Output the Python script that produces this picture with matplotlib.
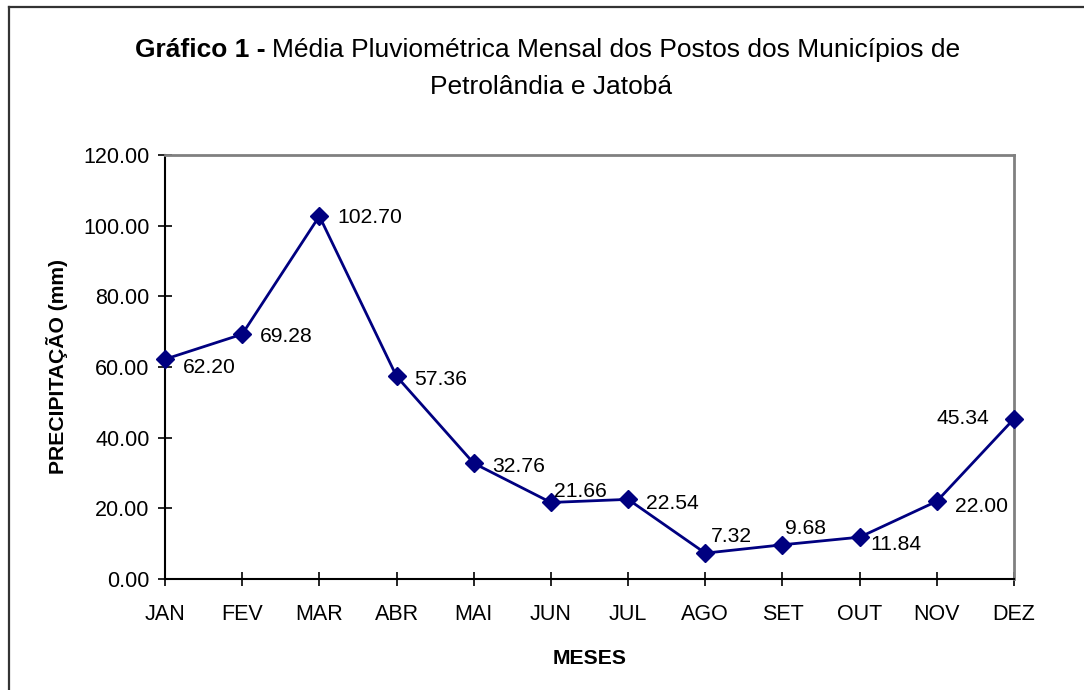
import matplotlib
matplotlib.use("Agg")
import matplotlib.pyplot as plt
from matplotlib.lines import Line2D
from matplotlib.ticker import FormatStrFormatter

plt.rcParams["font.family"] = ["Liberation Sans", "DejaVu Sans"]

meses = ["JAN", "FEV", "MAR", "ABR", "MAI", "JUN", "JUL", "AGO", "SET", "OUT", "NOV", "DEZ"]
precip = [62.20, 69.28, 102.70, 57.36, 32.76, 21.66, 22.54, 7.32, 9.68, 11.84, 22.00, 45.34]
# deslocamento dos rótulos (pontos) em relação a cada marcador
offsets = [(13, -6), (13, -2), (13, -1), (13, -2), (13, -2), (2, 8),
           (13, -3), (4, 12), (2, 12), (8, -5), (13, -4), (-18, 0)]

W, H = 1084, 690
fig = plt.figure(figsize=(W / 100, H / 100), dpi=100)
ax = fig.add_axes([165 / W, 1 - 579 / H, (1014 - 165) / W, (579 - 155) / H])

x = list(range(len(meses)))
ax.plot(x, precip, color="#000080", lw=2, marker="D", ms=9, mec="#000080", mfc="#000080",
        clip_on=False, zorder=3)
for xi, v, (dx, dy) in zip(x, precip, offsets):
    ha = "right" if dx < 0 else "left"
    ax.annotate(f"{v:.2f}", (xi, v), xytext=(dx, dy), textcoords="offset points",
                ha=ha, va="center", fontsize=15.2)

ax.set_xlim(0, 11)
ax.set_ylim(0, 120)
ax.set_yticks(range(0, 121, 20))
ax.yaxis.set_major_formatter(FormatStrFormatter("%.2f"))
ax.set_xticks(x)
ax.set_xticklabels(meses)
ax.tick_params(axis="both", direction="inout", length=10, width=1.2, labelsize=15.5)
ax.tick_params(axis="x", pad=13)
ax.tick_params(axis="y", pad=6)
for s in ("left", "bottom"):
    ax.spines[s].set_color("black")
    ax.spines[s].set_linewidth(1.5)
for s in ("top", "right"):
    ax.spines[s].set_color("#808080")
    ax.spines[s].set_linewidth(2)

ax.set_xlabel("MESES", fontsize=15.2, fontweight="bold", labelpad=17)
ax.set_ylabel("PRECIPITAÇÃO (mm)", fontsize=15.2, fontweight="bold", labelpad=11)

# título com parte em negrito
t1 = fig.text(135 / W, 1 - 50 / H, "Gráfico 1 -", fontsize=19, fontweight="bold",
              ha="left", va="center")
fig.canvas.draw()
bb = t1.get_window_extent()
fig.text((bb.x1 + 7) / W, 1 - 50 / H, "Média Pluviométrica Mensal dos Postos dos Municípios de",
         fontsize=19, ha="left", va="center")
fig.text(551 / W, 1 - 87 / H, "Petrolândia e Jatobá", fontsize=19, ha="center", va="center")

# moldura externa (só esquerda e topo visíveis)
fig.add_artist(Line2D([9 / W, 9 / W], [0, 1 - 7 / H], transform=fig.transFigure,
                      color="#333333", lw=1.6))
fig.add_artist(Line2D([9 / W, 1], [1 - 7 / H, 1 - 7 / H], transform=fig.transFigure,
                      color="#333333", lw=1.6))

fig.savefig("out.png", dpi=100)
